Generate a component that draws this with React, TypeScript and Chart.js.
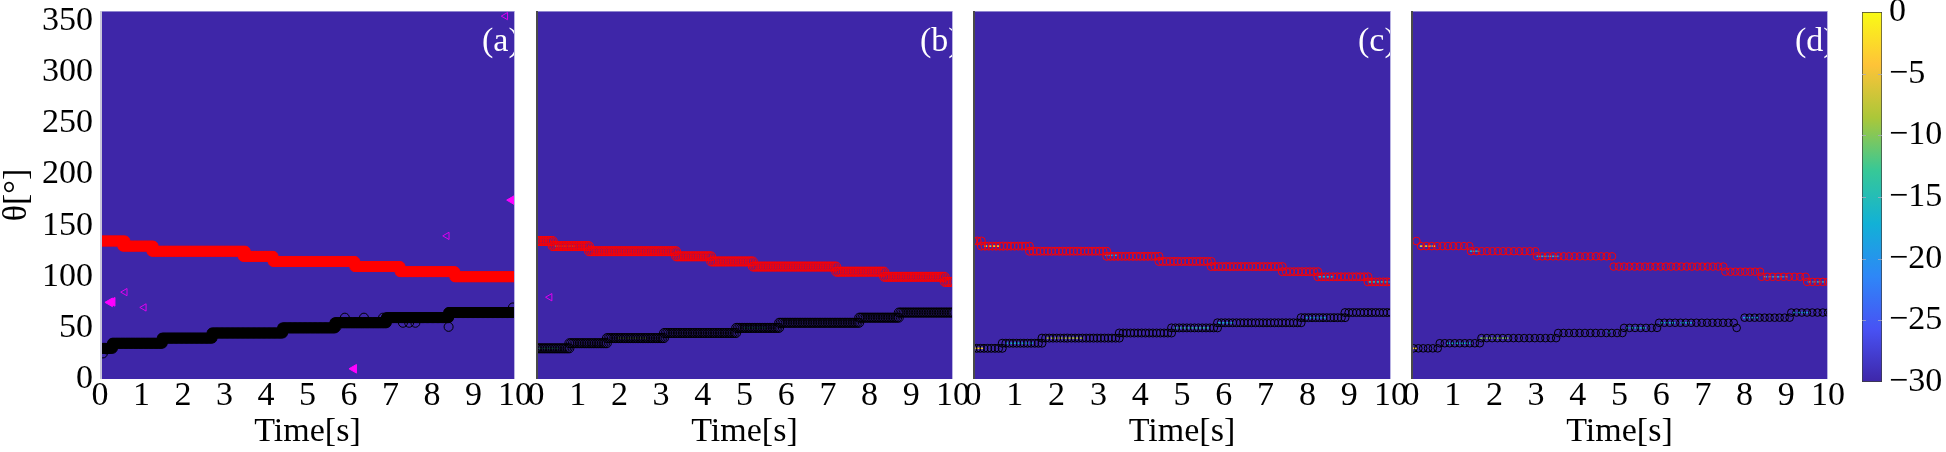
import React, { useEffect, useRef } from "react";
import { Chart, registerables } from "chart.js";

Chart.register(...registerables);

// ---------------- data ----------------
const timeTicks = [0, 1, 2, 3, 4, 5, 6, 7, 8, 9, 10];
const thetaTicks = [0, 50, 100, 150, 200, 250, 300, 350];
const colorbarTicks = [0, -5, -10, -15, -20, -25, -30];
const timeRange = [0, 10];
const thetaRange = [0, 360];
const powerRange = [-30, 0];
const panelLabels = ["(a)", "(b)", "(c)", "(d)"];
const xTitle = "Time[s]";
const yTitle = "θ[°]";

type Step = [number, number, number]; // [tStart, tEnd, theta]
type Pt = [number, number]; // [t, theta]
type Hot = [number, number, number, number]; // [tStart, tEnd, theta, dB]

// source 1 (red) tracks
const redStepsA: Step[] = [[0, 0.6, 135], [0.55, 1.28, 130], [1.25, 3.5, 125], [3.45, 4.17, 120], [4.17, 6.14, 115], [6.14, 7.23, 110], [7.23, 8.55, 105], [8.55, 10, 100]];
const redStepsB: Step[] = [[0, 0.4, 135], [0.4, 1.27, 130], [1.27, 3.36, 125], [3.36, 4.2, 120], [4.2, 5.2, 115], [5.2, 7.2, 110], [7.2, 8.35, 105], [8.35, 9.8, 100], [9.8, 10, 95]];
const redStepsC: Step[] = [[0, 0.2, 135], [0.2, 1.35, 130], [1.35, 3.2, 125], [3.2, 4.45, 120], [4.45, 5.7, 115], [5.7, 7.4, 110], [7.4, 8.25, 105], [8.25, 9.45, 100], [9.45, 10, 95]];
const redStepsD: Step[] = [[0.13, 0.13, 135], [0.24, 1.4, 130], [1.44, 2.98, 125], [3.02, 4.82, 120], [4.86, 7.49, 110], [7.54, 8.37, 105], [8.41, 9.46, 100], [9.5, 10, 95]];

// source 2 (black) tracks
const blackStepsA: Step[] = [[0.05, 0.3, 30], [0.3, 1.5, 35], [1.5, 2.7, 40], [2.7, 4.4, 45], [4.4, 5.66, 50], [5.66, 6.9, 55], [6.9, 8.4, 60], [8.4, 10, 65]];
const blackStepsB: Step[] = [[0, 0.8, 30], [0.8, 1.7, 35], [1.7, 3.07, 40], [3.07, 4.8, 45], [4.8, 5.83, 50], [5.83, 7.75, 55], [7.75, 8.7, 60], [8.7, 10, 65]];
const blackStepsC: Step[] = [[0, 0.7, 30], [0.7, 1.65, 35], [1.65, 3.5, 40], [3.5, 4.75, 45], [4.75, 5.85, 50], [5.85, 7.85, 55], [7.85, 8.9, 60], [8.9, 10, 65]];
const blackStepsD: Step[] = [[0.06, 0.64, 30], [0.69, 1.65, 35], [1.69, 3.48, 40], [3.53, 5.07, 45], [5.11, 5.9, 50], [5.95, 7.74, 55], [7.81, 7.81, 50], [8.0, 9.08, 60], [9.12, 10, 65]];

// stray detections (open black circles)
const blackStrayA: Pt[] = [[0.07, 25], [0.15, 29], [5.7, 51], [5.9, 60], [6.36, 60], [6.82, 60], [7.3, 55], [7.45, 55], [7.6, 55], [8.4, 51], [8.4, 64], [9.95, 70]];
const blackStrayB: Pt[] = [];
const blackStrayC: Pt[] = [];
const blackStrayD: Pt[] = [];

// ghost detections (magenta triangles)
const ghostFilledA: Pt[] = [[0.24, 75], [0.3, 75.5], [9.92, 175], [6.12, 10]];
const ghostOpenA: Pt[] = [[9.77, 355], [8.36, 140], [0.6, 85], [1.06, 70]];
const ghostFilledB: Pt[] = [];
const ghostOpenB: Pt[] = [[0.33, 80]];
const ghostFilledC: Pt[] = [];
const ghostOpenC: Pt[] = [];
const ghostFilledD: Pt[] = [];
const ghostOpenD: Pt[] = [];

// spectrum cells above the -30 dB floor
const hotCellsA: Hot[] = [];
const hotCellsB: Hot[] = [[0.5, 0.9, 130, -12], [0.1, 0.5, 30, -14], [2.0, 2.6, 40, -10], [5.0, 5.5, 50, -15]];
const hotCellsC: Hot[] = [[0.3, 0.6, 130, -2], [3.2, 3.4, 121, -17], [8.3, 8.6, 100, -17], [9.5, 10, 95, -14], [0.05, 0.2, 30, -3], [0.8, 1.4, 35, -17], [1.8, 2.6, 40, -8], [4.85, 5.6, 50, -14], [5.9, 6.2, 55, -17], [8.0, 8.4, 60, -17]];
const hotCellsD: Hot[] = [[0.25, 0.55, 130, -2], [1.45, 1.6, 125, -17], [3.05, 3.5, 120, -17], [8.5, 9.0, 100, -18], [9.55, 10, 95, -17], [0.03, 0.1, 30, -3], [0.9, 1.4, 35, -17], [1.7, 2.3, 40, -10], [4.75, 4.8, 46, -17], [5.2, 5.6, 50, -16], [6.0, 6.3, 55, -17], [6.5, 6.7, 55, -17], [8.0, 8.3, 60, -18], [9.2, 9.5, 65, -18]];

// ---------------- styles / layout ----------------
const FONT = '"Liberation Serif", "DejaVu Serif", serif';
const FONT_SIZE = 34;
const H = 452;
const PLOT_TOP = 11;
const PLOT_BOTTOM = 379;
const SIDE = 30;
const RED = "#ff0000";
const BLACK = "#000000";
const MAGENTA = "#ff00ff";

const panelLayout = [
  { left: 100, right: 515, yAxis: true, dt: 0.03, radius: 5, filled: true, leftEdge: "#c9c7da" },
  { left: 536, right: 953, yAxis: false, dt: 0.04, radius: 4.5, filled: false, leftEdge: "#4a4a4a" },
  { left: 973, right: 1391, yAxis: false, dt: 0.09, radius: 4, filled: false, leftEdge: "#4a4a4a" },
  { left: 1411, right: 1828, yAxis: false, dt: 0.125, radius: 3.8, filled: false, leftEdge: "#4a4a4a" },
];

const panelData = [
  { red: redStepsA, black: blackStepsA, stray: blackStrayA, gFill: ghostFilledA, gOpen: ghostOpenA, hot: hotCellsA },
  { red: redStepsB, black: blackStepsB, stray: blackStrayB, gFill: ghostFilledB, gOpen: ghostOpenB, hot: hotCellsB },
  { red: redStepsC, black: blackStepsC, stray: blackStrayC, gFill: ghostFilledC, gOpen: ghostOpenC, hot: hotCellsC },
  { red: redStepsD, black: blackStepsD, stray: blackStrayD, gFill: ghostFilledD, gOpen: ghostOpenD, hot: hotCellsD },
];

const parulaStops: [number, number[]][] = [
  [0, [62, 38, 168]],
  [1 / 7, [72, 82, 244]],
  [2 / 7, [46, 135, 247]],
  [3 / 7, [18, 177, 214]],
  [4 / 7, [55, 200, 151]],
  [5 / 7, [171, 199, 57]],
  [6 / 7, [254, 195, 56]],
  [1, [249, 251, 21]],
];

function parula(db: number): string {
  const t = Math.min(1, Math.max(0, (db - powerRange[0]) / (powerRange[1] - powerRange[0])));
  for (let i = 1; i < parulaStops.length; i++) {
    const [t1, c1] = parulaStops[i];
    const [t0, c0] = parulaStops[i - 1];
    if (t <= t1) {
      const f = (t - t0) / (t1 - t0);
      const c = c0.map((v, k) => Math.round(v + (c1[k] - v) * f));
      return `rgb(${c[0]},${c[1]},${c[2]})`;
    }
  }
  const c = parulaStops[parulaStops.length - 1][1];
  return `rgb(${c[0]},${c[1]},${c[2]})`;
}

function sampleSteps(steps: Step[], dt: number) {
  const pts: { x: number; y: number }[] = [];
  for (const [t0, t1, v] of steps) {
    const n = Math.max(0, Math.round((t1 - t0) / dt));
    for (let i = 0; i <= n; i++) pts.push({ x: n ? t0 + ((t1 - t0) * i) / n : t0, y: v });
  }
  return pts;
}

function sampleHot(cells: Hot[]) {
  const pts: { x: number; y: number }[] = [];
  const colors: string[] = [];
  for (const [t0, t1, v, db] of cells) {
    const n = Math.max(0, Math.round((t1 - t0) / 0.1));
    for (let i = 0; i <= n; i++) {
      pts.push({ x: n ? t0 + ((t1 - t0) * i) / n : t0, y: v });
      colors.push(parula(db));
    }
  }
  return { pts, colors };
}

const toPts = (arr: Pt[]) => arr.map(([x, y]) => ({ x, y }));

const zeroPad = (s: any) => {
  s.paddingLeft = 0;
  s.paddingRight = 0;
  s.paddingTop = 0;
  s.paddingBottom = 0;
};

const panelDecor = {
  id: "panelDecor",
  beforeDatasetsDraw(chart: any, _a: any, opts: any) {
    const { ctx, scales } = chart;
    const x = scales.x, y = scales.y;
    const l = x.getPixelForValue(timeRange[0]);
    const r = x.getPixelForValue(timeRange[1]);
    const t = y.getPixelForValue(thetaRange[1]);
    const b = y.getPixelForValue(thetaRange[0]);
    ctx.save();
    ctx.fillStyle = parula(powerRange[0]);
    ctx.fillRect(l, t, r - l, b - t);
    ctx.restore();
  },
  afterDatasetsDraw(chart: any, _a: any, opts: any) {
    const { ctx, chartArea: a } = chart;
    ctx.save();
    ctx.beginPath();
    ctx.rect(a.left, a.top, a.right - a.left, a.bottom - a.top);
    ctx.clip();
    ctx.fillStyle = "#ffffff";
    ctx.font = `${FONT_SIZE}px ${FONT}`;
    ctx.textAlign = "left";
    ctx.textBaseline = "middle";
    ctx.fillText(opts.label, a.right - 33, a.top + 31);
    ctx.restore();
    ctx.save();
    ctx.fillStyle = "#8f86cf";
    ctx.fillRect(a.left, a.top, a.right - a.left, 1);
    ctx.fillStyle = "#b9b3e3";
    ctx.fillRect(a.right - 1, a.top, 1, a.bottom - a.top);
    ctx.fillStyle = opts.leftEdge;
    ctx.fillRect(a.left, a.top, 2, a.bottom - a.top);
    ctx.restore();
  },
};

function Panel({ idx }: { idx: number }) {
  const ref = useRef<HTMLCanvasElement>(null);
  const st = panelLayout[idx];
  const canvasLeft = st.yAxis ? 0 : st.left - SIDE;
  const width = st.right + SIDE - canvasLeft;

  useEffect(() => {
    const d = panelData[idx];
    const hot = sampleHot(d.hot);
    const chart = new Chart(ref.current as HTMLCanvasElement, {
      type: "scatter",
      data: {
        datasets: [
          {
            label: "cells",
            data: hot.pts,
            pointStyle: "line",
            pointRadius: 1.6,
            pointBorderWidth: 1.5,
            pointBorderColor: hot.colors,
            order: 6,
            clip: 0,
          } as any,
          {
            label: "source 1",
            data: sampleSteps(d.red, st.dt),
            pointStyle: "circle",
            pointRadius: st.radius,
            pointBorderWidth: 1,
            pointBorderColor: RED,
            pointBackgroundColor: st.filled ? RED : "rgba(0,0,0,0)",
            order: 4,
            clip: 0,
          },
          {
            label: "source 2",
            data: sampleSteps(d.black, st.dt),
            pointStyle: "circle",
            pointRadius: st.radius,
            pointBorderWidth: 1,
            pointBorderColor: BLACK,
            pointBackgroundColor: st.filled ? BLACK : "rgba(0,0,0,0)",
            order: 3,
            clip: 0,
          },
          {
            label: "stray",
            data: toPts(d.stray),
            pointStyle: "circle",
            pointRadius: 4.5,
            pointBorderWidth: 1,
            pointBorderColor: BLACK,
            pointBackgroundColor: "rgba(0,0,0,0)",
            order: 2,
            clip: 0,
          },
          {
            label: "ghost filled",
            data: toPts(d.gFill),
            pointStyle: "triangle",
            pointRotation: -90,
            pointRadius: 5,
            pointBorderWidth: 1,
            pointBorderColor: MAGENTA,
            pointBackgroundColor: MAGENTA,
            order: 1,
            clip: 0,
          },
          {
            label: "ghost open",
            data: toPts(d.gOpen),
            pointStyle: "triangle",
            pointRotation: -90,
            pointRadius: 4.2,
            pointBorderWidth: 1,
            pointBorderColor: "#e000f0",
            pointBackgroundColor: "rgba(0,0,0,0)",
            order: 1,
            clip: 0,
          },
        ],
      },
      options: {
        responsive: false,
        animation: false,
        devicePixelRatio: 1,
        events: [],
        layout: { padding: { left: st.yAxis ? 0 : SIDE, right: SIDE, top: PLOT_TOP, bottom: 0 } },
        plugins: {
          legend: { display: false },
          tooltip: { enabled: false },
          panelDecor: { label: panelLabels[idx], leftEdge: st.leftEdge },
        } as any,
        scales: {
          x: {
            type: "linear",
            min: timeRange[0],
            max: timeRange[1],
            afterBuildTicks: (s: any) => {
              s.ticks = timeTicks.map((v) => ({ value: v }));
            },
            afterFit: (s: any) => {
              s.height = H - PLOT_BOTTOM;
              zeroPad(s);
            },
            grid: { display: false, drawTicks: false },
            border: { display: false },
            ticks: {
              autoSkip: false,
              maxRotation: 0,
              padding: 0,
              color: "#000",
              font: { family: FONT, size: FONT_SIZE, lineHeight: 1 },
              callback: (v: any) => String(v),
            },
            title: {
              display: true,
              text: xTitle,
              color: "#000",
              font: { family: FONT, size: FONT_SIZE, lineHeight: 1.2 },
              padding: { top: 0, bottom: 0 },
            },
          },
          y: {
            type: "linear",
            display: st.yAxis,
            min: thetaRange[0],
            max: thetaRange[1],
            afterBuildTicks: (s: any) => {
              s.ticks = thetaTicks.map((v) => ({ value: v }));
            },
            afterFit: (s: any) => {
              if (st.yAxis) s.width = st.left;
              zeroPad(s);
            },
            grid: { display: false, drawTicks: false },
            border: { display: false },
            ticks: {
              autoSkip: false,
              padding: 7,
              color: "#000",
              font: { family: FONT, size: FONT_SIZE, lineHeight: 1 },
              callback: (v: any) => String(v),
            },
            title: {
              display: true,
              text: yTitle,
              color: "#000",
              font: { family: FONT, size: FONT_SIZE, lineHeight: 1 },
              padding: { top: 0, bottom: 0 },
            },
          },
        },
      } as any,
      plugins: [panelDecor],
    });
    return () => chart.destroy();
  }, []);

  return (
    <canvas
      ref={ref}
      width={width}
      height={H}
      style={{ position: "absolute", left: canvasLeft, top: 0, width, height: H }}
    />
  );
}

const CB_LEFT = 1862;
const CB_RIGHT = 1882;
const CB_TOP = 12;
const CB_BOTTOM = 382;
const CB_CANVAS_LEFT = 1840;
const CB_CANVAS_W = 1946 - CB_CANVAS_LEFT;

const cbarTickMarks = {
  id: "cbarTickMarks",
  afterDatasetsDraw(chart: any) {
    const { ctx, chartArea: a, scales } = chart;
    ctx.save();
    ctx.strokeStyle = "rgba(170,170,190,0.8)";
    ctx.lineWidth = 1;
    for (const v of colorbarTicks) {
      if (v === powerRange[0] || v === powerRange[1]) continue;
      const y = Math.round(scales.y.getPixelForValue(v)) + 0.5;
      ctx.beginPath();
      ctx.moveTo(a.left, y);
      ctx.lineTo(a.left + 4, y);
      ctx.moveTo(a.right - 4, y);
      ctx.lineTo(a.right, y);
      ctx.stroke();
    }
    ctx.restore();
  },
};

function Colorbar() {
  const ref = useRef<HTMLCanvasElement>(null);
  useEffect(() => {
    const chart = new Chart(ref.current as HTMLCanvasElement, {
      type: "bar",
      data: {
        labels: ["dB"],
        datasets: [
          {
            data: [[powerRange[0], powerRange[1]]] as any,
            backgroundColor: (c: any) => {
              const ch = c.chart;
              const a = ch.chartArea;
              if (!a) return parula(powerRange[0]);
              const g = ch.ctx.createLinearGradient(0, a.bottom, 0, a.top);
              parulaStops.forEach(([t, [r, gg, b]]) => g.addColorStop(t, `rgb(${r},${gg},${b})`));
              return g;
            },
            borderColor: "#3c3c3c",
            borderWidth: 1,
            borderSkipped: false,
            barPercentage: 1,
            categoryPercentage: 1,
          } as any,
        ],
      },
      options: {
        responsive: false,
        animation: false,
        devicePixelRatio: 1,
        events: [],
        layout: { padding: { left: CB_LEFT - CB_CANVAS_LEFT, top: CB_TOP, bottom: H - CB_BOTTOM, right: 0 } },
        plugins: { legend: { display: false }, tooltip: { enabled: false } },
        scales: {
          x: { display: false },
          y: {
            type: "linear",
            position: "right",
            min: powerRange[0],
            max: powerRange[1],
            afterBuildTicks: (s: any) => {
              s.ticks = colorbarTicks.map((v) => ({ value: v }));
            },
            afterFit: (s: any) => {
              s.width = CB_CANVAS_W - (CB_RIGHT - CB_CANVAS_LEFT);
              zeroPad(s);
            },
            grid: { display: false, drawTicks: false },
            border: { display: false },
            ticks: {
              autoSkip: false,
              padding: 7,
              color: "#000",
              font: { family: FONT, size: FONT_SIZE, lineHeight: 1 },
              callback: (v: any) => (v < 0 ? "\u2212" + Math.abs(v) : String(v)),
            },
          },
        },
      } as any,
      plugins: [cbarTickMarks],
    });
    return () => chart.destroy();
  }, []);
  return (
    <canvas
      ref={ref}
      width={CB_CANVAS_W}
      height={H}
      style={{ position: "absolute", left: CB_CANVAS_LEFT, top: 0, width: CB_CANVAS_W, height: H }}
    />
  );
}

export default function App() {
  return (
    <div style={{ position: "absolute", left: 0, top: 0, width: 1946, height: H, overflow: "hidden", background: "#fff" }}>
      {panelLayout.map((_, i) => (
        <Panel key={i} idx={i} />
      ))}
      <Colorbar />
    </div>
  );
}
